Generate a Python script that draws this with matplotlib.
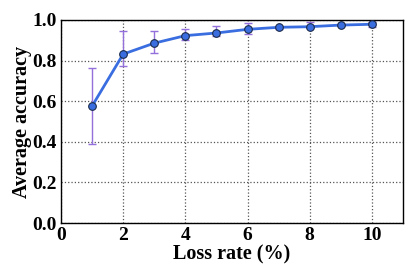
import matplotlib
matplotlib.use("Agg")
import matplotlib.pyplot as plt
import numpy as np

loss_rate = [1, 2, 3, 4, 5, 6, 7, 8, 9, 10]
accuracy = [0.576, 0.832, 0.886, 0.923, 0.936, 0.954, 0.964, 0.967, 0.975, 0.979]
err_low = [0.188, 0.057, 0.047, 0.023, 0.017, 0.021, 0.006, 0.008, 0.005, 0.014]
err_high = [0.186, 0.115, 0.060, 0.034, 0.036, 0.030, 0.006, 0.021, 0.005, 0.012]

plt.rcParams['font.family'] = ['Liberation Serif', 'DejaVu Serif']
plt.rcParams['font.weight'] = 'bold'

fig = plt.figure(figsize=(4.15, 2.77), dpi=100)
ax = fig.add_axes([61/415, 1 - 223/277, (403-61)/415, (223-20)/277])

ax.errorbar(loss_rate, accuracy, yerr=[err_low, err_high], fmt='none',
            ecolor='#9370DB', elinewidth=1.0, capsize=3, capthick=1.0, zorder=2)
ax.plot(loss_rate, accuracy, '-', color='#3a6ee0', lw=2.0, zorder=3)
ax.plot(loss_rate, accuracy, 'o', color='#3a6ee0', markeredgecolor='#1a2a4a',
        markeredgewidth=0.8, markersize=5.5, zorder=4)

ax.set_xlim(0, 11)
ax.set_ylim(0, 1.0)
ax.set_xticks([0, 2, 4, 6, 8, 10])
ax.set_yticks([0.0, 0.2, 0.4, 0.6, 0.8, 1.0])
ax.set_yticklabels(['0.0', '0.2', '0.4', '0.6', '0.8', '1.0'])
ax.grid(True, linestyle=':', color='#555555', linewidth=0.9)
ax.tick_params(direction='in', length=0, labelsize=14, pad=3)
for lbl in ax.get_xticklabels() + ax.get_yticklabels():
    lbl.set_fontweight('bold')
for s in ax.spines.values():
    s.set_linewidth(1.0)
    s.set_color('black')
ax.set_xlabel('Loss rate (%)', fontsize=14.5, fontweight='bold', labelpad=0)
ax.set_ylabel('Average accuracy', fontsize=14.5, fontweight='bold', labelpad=0)

fig.savefig('out.png', dpi=100)
